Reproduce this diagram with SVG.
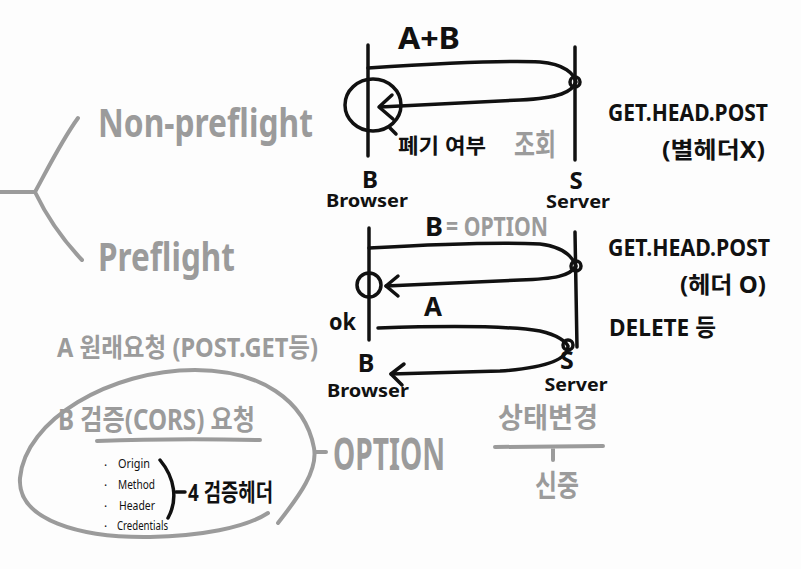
<svg xmlns="http://www.w3.org/2000/svg" width="801" height="569" viewBox="0 0 801 569">
<style>
.bk{fill:#111;font-family:"Noto Sans","Noto Sans CJK KR",sans-serif;font-weight:700}
.gr{fill:#9b9b9b;font-family:"Noto Sans","Noto Sans CJK KR",sans-serif;font-weight:700}
.lbl{fill:#111;font-family:"Noto Sans","Noto Sans CJK KR",sans-serif;font-weight:700;font-size:17px;text-anchor:middle}
.ln{fill:none;stroke:#111;stroke-width:3.5;stroke-linecap:round;stroke-linejoin:round}
.gl{fill:none;stroke:#9b9b9b;stroke-width:4;stroke-linecap:round;stroke-linejoin:round}
.sm{fill:#111;font-family:"Noto Sans",sans-serif;font-size:12px}
</style>
<rect width="801" height="569" fill="#fdfdfd"/>

<g id="branch">
<path class="gl" d="M0,192 L35,192 M78,118 C62,140 47,170 35,192 C46,215 63,240 82,260" stroke-width="5"/>
</g>
<g id="non-preflight"><text class="gr" x="98" y="137" font-size="40" textLength="215" lengthAdjust="spacingAndGlyphs">Non-preflight</text></g>
<g id="preflight"><text class="gr" x="98" y="271" font-size="40" textLength="137" lengthAdjust="spacingAndGlyphs">Preflight</text></g>

<g id="connectors">
<path class="ln" d="M368,45 L368,156"/>
<path class="ln" d="M575,47 L575,160"/>
<path class="ln" d="M368,68 C430,64 500,60 540,62 C565,64 574,74 576,82 C572,92 560,98 520,100 L380,107"/>
<path class="ln" d="M392,95 L379,107 L393,119"/>
<ellipse class="ln" cx="373" cy="105" rx="28" ry="26"/>
<path class="ln" d="M390,128 L396,134"/>
<circle class="ln" cx="575" cy="82" r="5" stroke-width="3"/>
<path class="ln" d="M369,228 L369,340"/>
<path class="ln" d="M575,232 L577,347"/>
<path class="ln" d="M369,248 C440,244 500,242 540,244 C565,247 573,258 576,266 C570,276 555,279 520,280 L386,286"/>
<path class="ln" d="M398,276 L386,286 L398,296"/>
<ellipse class="ln" cx="369" cy="285" rx="12" ry="12"/>
<circle class="ln" cx="576" cy="266" r="5" stroke-width="3"/>
<path class="ln" d="M378,328 C440,326 510,326 540,331 C558,335 566,342 568,346 C568,360 545,368 500,371 L391,374"/>
<path class="ln" d="M404,364 L391,374 L402,385"/>
<circle class="ln" cx="568" cy="345" r="5" stroke-width="3"/>
</g>

<g id="top-labels">
<text class="bk" x="398" y="49" font-size="30" textLength="62" lengthAdjust="spacingAndGlyphs" font-weight="500">A+B</text>
<text class="bk" x="398" y="153" font-size="21" textLength="88" lengthAdjust="spacingAndGlyphs">폐기 여부</text>
<text class="gr" x="514" y="155" font-size="30" textLength="42" lengthAdjust="spacingAndGlyphs" font-weight="500">조회</text>
</g>
<g id="browser-top">
<text class="bk" x="370" y="188" font-size="24" text-anchor="middle" font-weight="500">B</text>
<text class="lbl" x="367" y="207" textLength="82" lengthAdjust="spacingAndGlyphs">Browser</text>
</g>
<g id="server-top">
<text class="bk" x="576" y="189" font-size="24" text-anchor="middle" font-weight="500">S</text>
<text class="lbl" x="578" y="208" textLength="64" lengthAdjust="spacingAndGlyphs">Server</text>
</g>
<g id="methods-top">
<text class="bk" x="608" y="121" font-size="23" textLength="160" lengthAdjust="spacingAndGlyphs">GET.HEAD.POST</text>
<text class="bk" x="662" y="158" font-size="23" textLength="103" lengthAdjust="spacingAndGlyphs">(별헤더X)</text>
</g>

<g id="mid-labels">
<text class="bk" x="425" y="236" font-size="27" font-weight="700">B</text>
<text class="gr" x="446" y="236" font-size="27" textLength="102" lengthAdjust="spacingAndGlyphs" font-weight="500">= OPTION</text>
<text class="bk" x="424" y="316" font-size="26" font-weight="500">A</text>
<text class="bk" x="329" y="330" font-size="24" textLength="27" lengthAdjust="spacingAndGlyphs">ok</text>
</g>
<g id="browser-mid">
<text class="bk" x="366" y="372" font-size="25" text-anchor="middle" font-weight="500">B</text>
<text class="lbl" x="368" y="397" textLength="82" lengthAdjust="spacingAndGlyphs">Browser</text>
</g>
<g id="server-mid">
<text class="bk" x="567" y="369" font-size="25" text-anchor="middle" font-weight="500">S</text>
<text class="lbl" x="576" y="391" textLength="63" lengthAdjust="spacingAndGlyphs">Server</text>
</g>
<g id="methods-mid">
<text class="bk" x="608" y="256" font-size="23" textLength="162" lengthAdjust="spacingAndGlyphs">GET.HEAD.POST</text>
<text class="bk" x="680" y="293" font-size="23" textLength="86" lengthAdjust="spacingAndGlyphs">(헤더 O)</text>
<text class="bk" x="609" y="336" font-size="24" textLength="107" lengthAdjust="spacingAndGlyphs">DELETE 등</text>
</g>

<g id="request-a">
<text class="gr" x="57" y="357" font-size="26" textLength="261" lengthAdjust="spacingAndGlyphs" font-weight="500">A 원래요청 (POST.GET등)</text>
</g>
<g id="request-b">
<path class="gl" d="M278,523 C300,495 318,470 314,448 C305,400 260,370 195,370 C110,370 25,420 20,478 C17,520 80,538 150,537 C200,536 245,528 268,513"/>
<text class="gr" x="58" y="430" font-size="28" textLength="197" lengthAdjust="spacingAndGlyphs" font-weight="500">B 검증(CORS) 요청</text>
<path class="gl" d="M97,441 C150,439 210,439 260,440"/>
<text class="sm" x="104" y="470">·</text>
<text class="sm" x="118" y="468" textLength="32" lengthAdjust="spacingAndGlyphs">Origin</text>
<text class="sm" x="104" y="490">·</text>
<text class="sm" x="118" y="489" textLength="37" lengthAdjust="spacingAndGlyphs">Method</text>
<text class="sm" x="104" y="511">·</text>
<text class="sm" x="119" y="510" textLength="36" lengthAdjust="spacingAndGlyphs">Header</text>
<text class="sm" x="104" y="531">·</text>
<text class="sm" x="117" y="530" textLength="51" lengthAdjust="spacingAndGlyphs">Credentials</text>
<path class="ln" d="M160,460 C175,478 178,500 168,518" stroke-width="3"/>
<path class="ln" d="M176,492 L185,492" stroke-width="3"/>
<text class="bk" x="188" y="501" font-size="24" textLength="85" lengthAdjust="spacingAndGlyphs">4 검증헤더</text>
</g>
<g id="option">
<path class="gl" d="M316,452 L326,452"/>
<text class="gr" x="333" y="470" font-size="44" textLength="112" lengthAdjust="spacingAndGlyphs" font-weight="500">OPTION</text>
</g>
<g id="state-change">
<text class="gr" x="498" y="428" font-size="28" textLength="100" lengthAdjust="spacingAndGlyphs" font-weight="500">상태변경</text>
<path class="gl" d="M495,447 L603,446 M553,447 L553,460" stroke-width="3"/>
<text class="gr" x="535" y="496" font-size="30" textLength="44" lengthAdjust="spacingAndGlyphs" font-weight="500">신중</text>
</g>
</svg>
